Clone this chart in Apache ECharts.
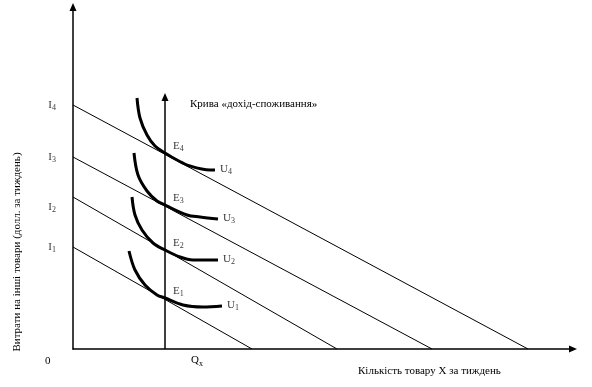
<!DOCTYPE html>
<html>
<head>
<meta charset="utf-8">
<script src="https://cdn.jsdelivr.net/npm/echarts@6/dist/echarts.min.js"></script>
<style>html,body{margin:0;padding:0;background:#fff;}#c{width:592px;height:387px;}</style>
</head>
<body>
<div id="c"></div>
<script>
// Budget lines: intercept on spending axis and on quantity axis
const budgetNames = ['1', '2', '3', '4'];
const budgetYIntercepts = [102, 152, 192, 244];
const budgetXIntercepts = [179, 264, 359, 455];

// Indifference curves
const curveU1 = [[56,98],[62,79],[72,64],[84,54],[92,51],[110,44],[130,42],[149,43]];
const curveU2 = [[59,152],[62,134],[69,119],[80,106],[92,99],[107,92],[120,89],[145,89]];
const curveU3 = [[61,196],[65,174],[74,158],[84,148],[92,144],[114,134],[127,132],[145,130]];
const curveU4 = [[64,251],[67,231],[74,214],[82,203],[92,196],[104,189],[117,183],[137,179],[142,179]];
const curves = [curveU1, curveU2, curveU3, curveU4];
const tangencyIndex = 4;

// Income-consumption curve (vertical)
const iccX = 92;
const iccTop = 252;

const FONT = 'Liberation Serif';
const rich = {
  m: { fontFamily: FONT, fontSize: 11, color: '#000' },
  s: { fontFamily: FONT, fontSize: 8, color: '#000', padding: [6, 0, 0, 0] }
};

const series = [];
budgetNames.forEach((n, i) => {
  series.push({
    type: 'line', silent: true, symbol: 'none',
    lineStyle: { color: '#000', width: 1 },
    data: [[0, budgetYIntercepts[i]], [budgetXIntercepts[i], 0]]
  });
});
// I labels
series.push({
  type: 'scatter', symbolSize: 0, silent: true,
  data: budgetYIntercepts.map((y, i) => ({
    value: [0, y],
    label: {
      show: true, position: 'left', distance: 17,
      offset: i === 1 ? [0, 10] : [0, 0],
      formatter: '{m|I}{s|' + budgetNames[i] + '}', rich: rich
    }
  }))
});
curves.forEach((c, i) => {
  series.push({
    type: 'line', silent: true, symbol: 'none', smooth: 0.35,
    lineStyle: { color: '#000', width: 3 },
    data: c
  });
});
// E and U labels
series.push({
  type: 'scatter', symbolSize: 0, silent: true,
  data: curves.map((c, i) => ({
    value: c[tangencyIndex],
    label: { show: true, position: 'right', distance: 8, offset: [0, -7],
      formatter: '{m|E}{s|' + budgetNames[i] + '}', rich: rich }
  })).concat(curves.map((c, i) => ({
    value: c[c.length - 1],
    label: { show: true, position: 'right', distance: 5, offset: [0, -1],
      formatter: '{m|U}{s|' + budgetNames[i] + '}', rich: rich }
  })))
});
series.push({
  type: 'line', silent: true,
  lineStyle: { color: '#000', width: 1.5 },
  itemStyle: { color: '#000' },
  data: [
    { value: [iccX, 0], symbol: 'none' },
    { value: [iccX, iccTop], symbol: 'triangle', symbolSize: [7, 8] }
  ]
});

const chart = echarts.init(document.getElementById('c'), null, { renderer: 'canvas' });
chart.setOption({
  animation: false,
  backgroundColor: '#fff',
  grid: { left: 73, right: 19, top: 7, bottom: 38 },
  xAxis: {
    type: 'value', min: 0, max: 500,
    axisLine: { onZero: false, symbol: ['none', 'triangle'], symbolSize: [7, 8], lineStyle: { color: '#000', width: 1.5 } },
    axisTick: { show: false }, axisLabel: { show: false }, splitLine: { show: false }
  },
  yAxis: {
    type: 'value', min: 0, max: 342,
    axisLine: { show: true, onZero: false, symbol: ['none', 'triangle'], symbolSize: [7, 8], lineStyle: { color: '#000', width: 1.5 } },
    axisTick: { show: false }, axisLabel: { show: false }, splitLine: { show: false }
  },
  series: series,
  graphic: [
    { type: 'text', left: 190, top: 99, style: { text: 'Крива «дохід-споживання»', font: '11px "Liberation Serif"', fill: '#000' } },
    { type: 'text', left: 358, top: 366, style: { text: 'Кількість товару X за тиждень', font: '11px "Liberation Serif"', fill: '#000' } },
    { type: 'text', left: 45, top: 356, style: { text: '0', font: '11px "Liberation Serif"', fill: '#000' } },
    { type: 'text', left: 191, top: 355, style: { rich: rich, text: '{m|Q}{s|x}' } },
    { type: 'text', x: 17, y: 252, rotation: Math.PI / 2,
      style: { text: 'Витрати на інші товари (долл. за тиждень)', font: '11px "Liberation Serif"', fill: '#000', align: 'center', verticalAlign: 'middle' } }
  ]
});
</script>
</body>
</html>
